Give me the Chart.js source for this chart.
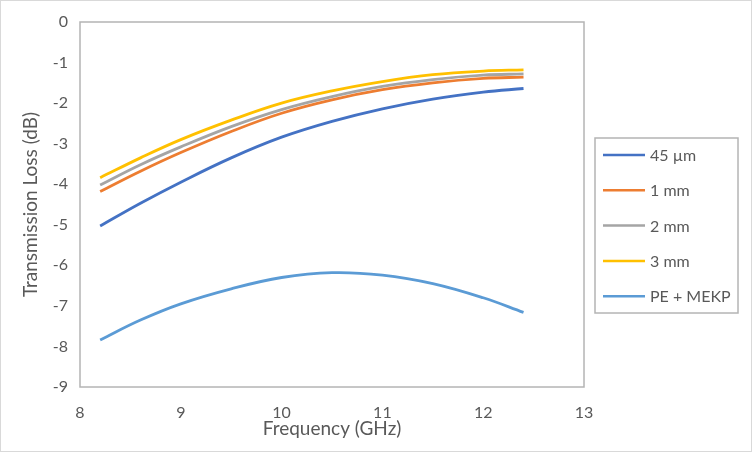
<!DOCTYPE html>
<html>
<head>
<meta charset="utf-8">
<script src="https://cdn.jsdelivr.net/npm/chart.js@4"></script>
<style>
  html, body { margin: 0; padding: 0; background: #fff; }
  #wrap { width: 752px; height: 452px; position: relative; }
</style>
</head>
<body>
<div id="wrap"><canvas id="chart" width="752" height="452"></canvas></div>
<script>
// Frecuencias (GHz)
const freq = [8.2, 8.6, 9.0, 9.5, 10.0, 10.5, 11.0, 11.5, 12.0, 12.4];

// Pérdida de transmisión (dB) por muestra
const loss45um = [-5.03, -4.47, -3.95, -3.35, -2.84, -2.45, -2.14, -1.90, -1.73, -1.64];
const loss1mm  = [-4.18, -3.68, -3.22, -2.70, -2.25, -1.92, -1.67, -1.50, -1.39, -1.36];
const loss2mm  = [-4.02, -3.52, -3.08, -2.58, -2.16, -1.84, -1.59, -1.42, -1.31, -1.28];
const loss3mm  = [-3.84, -3.35, -2.90, -2.42, -2.00, -1.70, -1.47, -1.30, -1.21, -1.18];
const lossPE   = [-7.84, -7.35, -6.95, -6.58, -6.30, -6.18, -6.24, -6.45, -6.80, -7.16];

const seriesNames = ["45 µm", "1 mm", "2 mm", "3 mm", "PE + MEKP"];
const seriesColors = ["#4472C4", "#ED7D31", "#A5A5A5", "#FFC000", "#5B9BD5"];
const seriesValues = [loss45um, loss1mm, loss2mm, loss3mm, lossPE];

const textColor = "#595959";
const fontFamily = "Lato, 'Open Sans', sans-serif";

function toPoints(values) {
  return values.map((v, i) => ({ x: freq[i], y: v }));
}

// Marco exterior y caja del área de trazado
const framePlugin = {
  id: "frame",
  beforeDraw(chart) {
    const ctx = chart.ctx;
    ctx.save();
    ctx.fillStyle = "#fff";
    ctx.fillRect(0, 0, chart.width, chart.height);
    ctx.strokeStyle = "#d9d9d9";
    ctx.lineWidth = 1;
    ctx.strokeRect(0.5, 0.5, chart.width - 1, chart.height - 1);
    ctx.restore();
  },
  afterDatasetsDraw(chart) {
    const { left, top, right, bottom } = chart.chartArea;
    const ctx = chart.ctx;
    ctx.save();
    ctx.strokeStyle = "#b4b4b4";
    ctx.lineWidth = 1.5;
    ctx.strokeRect(left, top, right - left, bottom - top);
    ctx.restore();
  }
};

// Leyenda en recuadro a la derecha
const boxLegendPlugin = {
  id: "boxLegend",
  afterDraw(chart) {
    const ctx = chart.ctx;
    const x0 = 595, y0 = 138, w = 143, h = 175;
    ctx.save();
    ctx.strokeStyle = "#b4b4b4";
    ctx.lineWidth = 1.5;
    ctx.strokeRect(x0, y0, w, h);
    ctx.font = "16px " + fontFamily;
    ctx.textBaseline = "middle";
    chart.data.datasets.forEach((ds, i) => {
      const y = 155 + i * 35.3;
      ctx.strokeStyle = ds.borderColor;
      ctx.lineWidth = 2.5;
      ctx.beginPath();
      ctx.moveTo(603, y);
      ctx.lineTo(645, y);
      ctx.stroke();
      ctx.fillStyle = textColor;
      ctx.fillText(ds.label, 650, y + 1);
    });
    ctx.restore();
  }
};

new Chart(document.getElementById("chart"), {
  type: "line",
  data: {
    datasets: seriesNames.map((name, i) => ({
      label: name,
      data: toPoints(seriesValues[i]),
      borderColor: seriesColors[i],
      backgroundColor: seriesColors[i],
      borderWidth: 2.8,
      pointRadius: 0,
      tension: 0.4,
      fill: false
    }))
  },
  options: {
    responsive: false,
    animation: false,
    layout: { padding: { left: 10, top: 22, right: 168, bottom: 0 } },
    plugins: {
      legend: { display: false },
      tooltip: { enabled: false }
    },
    scales: {
      x: {
        type: "linear",
        min: 8,
        max: 13,
        grid: { display: false, drawTicks: false },
        border: { display: false },
        ticks: { stepSize: 1, color: textColor, font: { size: 16, family: fontFamily }, padding: 16 },
        title: { display: true, text: "Frequency (GHz)", color: textColor, font: { size: 19, family: fontFamily }, padding: { top: 0, bottom: 12 } },
        afterFit(scale) { scale.height = 65; }
      },
      y: {
        min: -9,
        max: 0,
        grid: { display: false, drawTicks: false },
        border: { display: false },
        ticks: { stepSize: 1, color: textColor, font: { size: 16, family: fontFamily }, padding: 12 },
        title: { display: true, text: "Transmission Loss (dB)", color: textColor, font: { size: 19, family: fontFamily }, padding: { top: 9, bottom: 0 } },
        afterFit(scale) { scale.width = 70; }
      }
    }
  },
  plugins: [framePlugin, boxLegendPlugin]
});
</script>
</body>
</html>
